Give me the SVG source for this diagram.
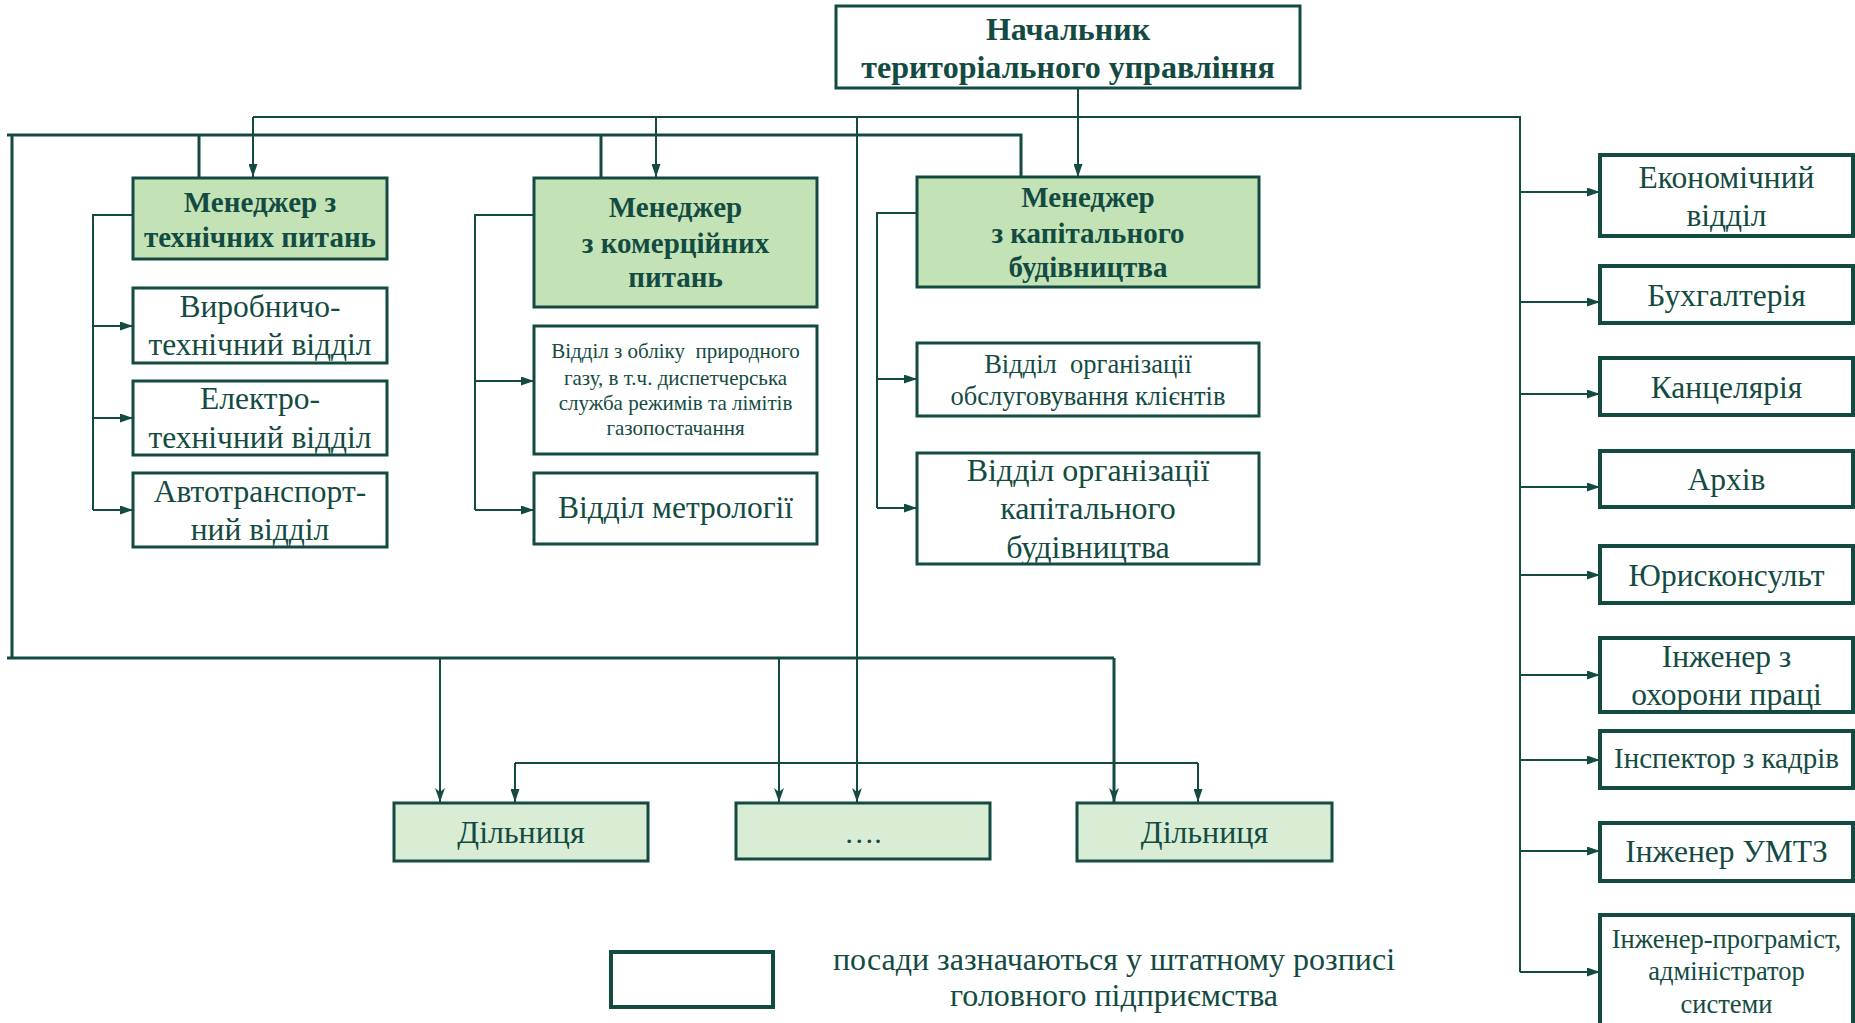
<svg xmlns="http://www.w3.org/2000/svg" width="1855" height="1023" viewBox="0 0 1855 1023" font-family="'Liberation Serif', 'DejaVu Serif', serif">
  <style>
    .box { fill: #ffffff; stroke: #134b42; stroke-width: 3; }
    .boxr { fill: #ffffff; stroke: #134b42; stroke-width: 4; }
    .mgr { fill: #c3e3b7; stroke: #134b42; stroke-width: 3; }
    .site { fill: #d8edd3; stroke: #134b42; stroke-width: 3; }
    .ln { fill: none; stroke: #134b42; stroke-width: 2; }
    .lnb { fill: none; stroke: #134b42; stroke-width: 3; }
    .arr { marker-end: url(#ah); }
    .arrs { marker-end: url(#ahs); }
    .t { fill: #134b42; text-anchor: middle; }
    .b { font-weight: bold; }
  </style>
  <defs>
    <marker id="ah" viewBox="0 0 13 9" refX="13" refY="4.5" markerWidth="13" markerHeight="9" markerUnits="userSpaceOnUse" orient="auto">
      <path d="M0,0 L13,4.5 L0,9 z" fill="#134b42"/>
    </marker>
    <marker id="ahs" viewBox="0 0 14 10" refX="14" refY="5" markerWidth="14" markerHeight="10" markerUnits="userSpaceOnUse" orient="auto">
      <path d="M0,0 L14,5 L0,10 L4,5 z" fill="#134b42"/>
    </marker>
  </defs>
  <rect width="1855" height="1023" fill="#ffffff"/>

  <!-- connectors -->
  <g id="connectors">
    <!-- head to managers and staff column -->
    <path class="ln arr" d="M1078,88 V177"/>
    <path class="ln" d="M253,117 H1520 V972"/>
    <path class="ln arr" d="M253,117 V177"/>
    <path class="ln arr" d="M656,117 V177"/>
    <!-- outer loop linking managers to sites -->
    <path class="lnb" d="M7,135 H1021 V178"/>
    <path class="lnb" d="M199,135 V178"/>
    <path class="lnb" d="M601,135 V178"/>
    <path class="lnb" d="M12,135 V658"/>
    <path class="lnb" d="M7,658 H1114"/>
    <path class="ln arrs" d="M440,658 V802"/>
    <path class="ln arrs" d="M779,658 V802"/>
    <path class="lnb arrs" d="M1114,658 V802"/>
    <!-- central line to sites -->
    <path class="ln arrs" d="M857,117 V802"/>
    <path class="ln" d="M515,763 H1198"/>
    <path class="ln arr" d="M515,763 V802"/>
    <path class="ln arr" d="M1198,763 V802"/>
    <!-- technical manager branch -->
    <path class="ln" d="M133,215 H93 V510"/>
    <path class="ln arr" d="M93,326 H133"/>
    <path class="ln arr" d="M93,418 H133"/>
    <path class="ln arr" d="M93,510 H133"/>
    <!-- commercial manager branch -->
    <path class="ln" d="M534,215 H475 V510"/>
    <path class="ln arr" d="M475,381 H534"/>
    <path class="ln arr" d="M475,510 H534"/>
    <!-- capital construction branch -->
    <path class="ln" d="M917,213 H877 V508"/>
    <path class="ln arr" d="M877,379 H917"/>
    <path class="ln arr" d="M877,508 H917"/>
    <!-- staff column -->
    <path class="ln arr" d="M1520,192 H1600"/>
    <path class="ln arr" d="M1520,302 H1600"/>
    <path class="ln arr" d="M1520,394 H1600"/>
    <path class="ln arr" d="M1520,487 H1600"/>
    <path class="ln arr" d="M1520,575 H1600"/>
    <path class="ln arr" d="M1520,675 H1600"/>
    <path class="ln arr" d="M1520,760 H1600"/>
    <path class="ln arr" d="M1520,851 H1600"/>
    <path class="ln arr" d="M1520,972 H1600"/>
  </g>

  <g id="head">
    <rect class="box" x="836" y="6" width="464" height="82"/>
    <text class="t b" x="1068" y="40" font-size="32">Начальник</text>
    <text class="t b" x="1068" y="78" font-size="32">територіального управління</text>
  </g>

  <g id="mgr-tech">
    <rect class="mgr" x="133" y="178" width="254" height="81"/>
    <text class="t b" x="260" y="212" font-size="29">Менеджер з</text>
    <text class="t b" x="260" y="247" font-size="29">технічних питань</text>
  </g>
  <g id="dept-prod">
    <rect class="box" x="133" y="288" width="254" height="75"/>
    <text class="t" x="260" y="317" font-size="31.5">Виробничо-</text>
    <text class="t" x="260" y="355" font-size="31.5">технічний відділ</text>
  </g>
  <g id="dept-elec">
    <rect class="box" x="133" y="381" width="254" height="74"/>
    <text class="t" x="260" y="409" font-size="31.5">Електро-</text>
    <text class="t" x="260" y="448" font-size="31.5">технічний відділ</text>
  </g>
  <g id="dept-auto">
    <rect class="box" x="133" y="473" width="254" height="74"/>
    <text class="t" x="260" y="502" font-size="31.5">Автотранспорт-</text>
    <text class="t" x="260" y="540" font-size="31.5">ний відділ</text>
  </g>

  <g id="mgr-comm">
    <rect class="mgr" x="534" y="178" width="283" height="129"/>
    <text class="t b" x="675.5" y="217" font-size="29">Менеджер</text>
    <text class="t b" x="675.5" y="253" font-size="29">з комерційних</text>
    <text class="t b" x="675.5" y="287" font-size="29">питань</text>
  </g>
  <g id="dept-gas">
    <rect class="box" x="534" y="326" width="283" height="128"/>
    <text class="t" x="675.5" y="358" font-size="21" xml:space="preserve">Відділ з обліку  природного</text>
    <text class="t" x="675.5" y="385" font-size="21">газу, в т.ч. диспетчерська</text>
    <text class="t" x="675.5" y="410" font-size="21">служба режимів та лімітів</text>
    <text class="t" x="675.5" y="435" font-size="21">газопостачання</text>
  </g>
  <g id="dept-metro">
    <rect class="box" x="534" y="473" width="283" height="71"/>
    <text class="t" x="675.5" y="518" font-size="31.5">Відділ метрології</text>
  </g>

  <g id="mgr-cap">
    <rect class="mgr" x="917" y="177" width="342" height="110"/>
    <text class="t b" x="1088" y="207" font-size="29">Менеджер</text>
    <text class="t b" x="1088" y="243" font-size="29">з капітального</text>
    <text class="t b" x="1088" y="277" font-size="29">будівництва</text>
  </g>
  <g id="dept-clients">
    <rect class="box" x="917" y="343" width="342" height="73"/>
    <text class="t" x="1088" y="373" font-size="26.5" xml:space="preserve">Відділ  організації</text>
    <text class="t" x="1088" y="405" font-size="26.5">обслуговування клієнтів</text>
  </g>
  <g id="dept-build">
    <rect class="box" x="917" y="453" width="342" height="111"/>
    <text class="t" x="1088" y="481" font-size="32">Відділ організації</text>
    <text class="t" x="1088" y="519" font-size="32">капітального</text>
    <text class="t" x="1088" y="558" font-size="32">будівництва</text>
  </g>

  <g id="econ">
    <rect class="boxr" x="1600" y="155" width="253" height="81"/>
    <text class="t" x="1726.5" y="188" font-size="31.5">Економічний</text>
    <text class="t" x="1726.5" y="226" font-size="31.5">відділ</text>
  </g>
  <g id="account">
    <rect class="boxr" x="1600" y="266" width="253" height="57"/>
    <text class="t" x="1726.5" y="306" font-size="31.5">Бухгалтерія</text>
  </g>
  <g id="office">
    <rect class="boxr" x="1600" y="358" width="253" height="57"/>
    <text class="t" x="1726.5" y="398" font-size="31.5">Канцелярія</text>
  </g>
  <g id="archive">
    <rect class="boxr" x="1600" y="451" width="253" height="56"/>
    <text class="t" x="1726.5" y="490" font-size="31.5">Архів</text>
  </g>
  <g id="lawyer">
    <rect class="boxr" x="1600" y="546" width="253" height="57"/>
    <text class="t" x="1726.5" y="586" font-size="31.5">Юрисконсульт</text>
  </g>
  <g id="safety">
    <rect class="boxr" x="1600" y="638" width="253" height="74"/>
    <text class="t" x="1726.5" y="667" font-size="31.5">Інженер з</text>
    <text class="t" x="1726.5" y="705" font-size="31.5">охорони праці</text>
  </g>
  <g id="hr">
    <rect class="boxr" x="1600" y="731" width="253" height="57"/>
    <text class="t" x="1726.5" y="768" font-size="29">Інспектор з кадрів</text>
  </g>
  <g id="supply">
    <rect class="boxr" x="1600" y="823" width="253" height="58"/>
    <text class="t" x="1726.5" y="862" font-size="31.5">Інженер УМТЗ</text>
  </g>
  <g id="it">
    <rect class="boxr" x="1600" y="915" width="253" height="112"/>
    <text class="t" x="1726.5" y="948" font-size="26.5">Інженер-програміст,</text>
    <text class="t" x="1726.5" y="980" font-size="26.5">адміністратор</text>
    <text class="t" x="1726.5" y="1013" font-size="26.5">системи</text>
  </g>

  <g id="site-1">
    <rect class="site" x="394" y="803" width="254" height="58"/>
    <text class="t" x="521" y="843" font-size="32">Дільниця</text>
  </g>
  <g id="site-more">
    <rect class="site" x="736" y="803" width="254" height="56"/>
    <text class="t" x="863" y="843" font-size="30">….</text>
  </g>
  <g id="site-2">
    <rect class="site" x="1077" y="803" width="255" height="58"/>
    <text class="t" x="1204.5" y="843" font-size="32">Дільниця</text>
  </g>

  <g id="legend">
    <rect class="boxr" x="611" y="952" width="162" height="55"/>
    <text class="t" x="1114" y="970" font-size="32">посади зазначаються у штатному розписі</text>
    <text class="t" x="1114" y="1006" font-size="32">головного підприємства</text>
  </g>
</svg>
